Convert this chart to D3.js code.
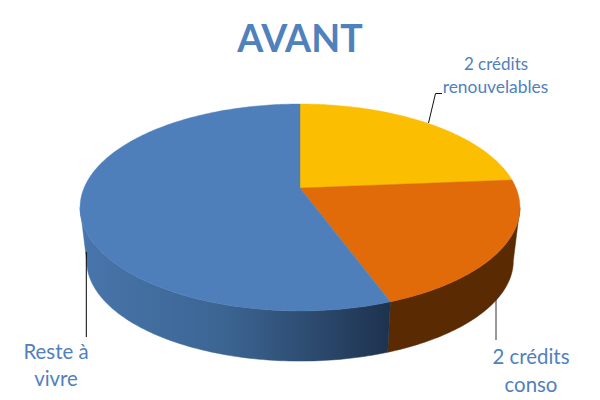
<!DOCTYPE html>
<html>
<head>
<meta charset="utf-8">
<script src="https://cdn.jsdelivr.net/npm/d3@7"></script>
<style>
  html, body { margin: 0; background: #fff; }
  svg { display: block; }
  text { font-family: Lato, "Open Sans", sans-serif; fill: #4f81bd; text-anchor: middle; }
</style>
</head>
<body>
<svg id="pie" width="600" height="400"></svg>
<script>
const categories = ["2 crédits renouvelables", "2 crédits conso", "Reste à vivre"];
const shares = [23.7, 20.7, 55.6];
const titleText = "AVANT";

const topColors = ["#fbbe00", "#e16b08", "#4e7fbb"];
const wallColors = ["#7f6000", "#5a2b03", "url(#blueWall)"];

const svg = d3.select("svg#pie");

// perspective of the tilted disc: k shifts the centre towards the back edge
const k = 0.188;
const centerX = 300;
const centerY = 188;
const scaleX = 216;
const scaleY = 99.8;
const ellipseMidY = 207.5;

// bottom rim is a bit narrower and sits lower
const rimScale = 0.97;
const rimMidY = 260.8;

function project(angle) {
  const X = Math.sin(angle);
  const Y = -Math.cos(angle);
  const w = 1 - k * Y;
  return [centerX + (scaleX * X) / w, centerY + (scaleY * Y) / w];
}

function projectRim(angle) {
  const p = project(angle);
  return [
    centerX + (p[0] - centerX) * rimScale,
    rimMidY + (p[1] - ellipseMidY) * rimScale,
  ];
}

const pie = d3.pie().sort(null).value((d) => d);
const slices = pie(shares);

const line = d3.line();

function steps(a, b) {
  const n = Math.max(2, Math.ceil(Math.abs(b - a) * 60));
  return d3.range(n + 1).map((i) => a + ((b - a) * i) / n);
}

// blue side gets darker towards the front right
const defs = svg.append("defs");
const grad = defs
  .append("linearGradient")
  .attr("id", "blueWall")
  .attr("gradientUnits", "userSpaceOnUse")
  .attr("x1", 87)
  .attr("x2", 390)
  .attr("y1", 0)
  .attr("y2", 0);
grad.append("stop").attr("offset", "0%").attr("stop-color", "#4774aa");
grad.append("stop").attr("offset", "45%").attr("stop-color", "#3c6593");
grad.append("stop").attr("offset", "75%").attr("stop-color", "#2c4a6e");
grad.append("stop").attr("offset", "100%").attr("stop-color", "#1d324e");

// visible part of the side, between the two widest points of the ellipse
const wallStart = Math.acos(-k);
const wallEnd = 2 * Math.PI - wallStart;

slices.forEach((d, i) => {
  const a = Math.max(d.startAngle, wallStart);
  const b = Math.min(d.endAngle, wallEnd);
  if (a >= b) return;
  const upper = steps(a, b).map(project);
  const lower = steps(a, b).map(projectRim).reverse();
  svg
    .append("path")
    .attr("class", "wall")
    .attr("d", line(upper.concat(lower)) + "Z")
    .attr("fill", wallColors[i])
    .attr("stroke", wallColors[i])
    .attr("stroke-width", 0.5);
});

// leader lines
const leaders = svg.append("g").attr("fill", "none");
leaders
  .append("path")
  .attr("d", line([[86.3, 252], [86.3, 337]]))
  .attr("stroke", "#000")
  .attr("stroke-width", 1);
leaders
  .append("path")
  .attr("d", line([[496, 296], [496, 340]]))
  .attr("stroke", "#333")
  .attr("stroke-width", 1);

slices.forEach((d, i) => {
  const rimPoints = steps(d.startAngle, d.endAngle).map(project);
  svg
    .append("path")
    .attr("class", "slice")
    .attr("d", line([[centerX, centerY]].concat(rimPoints)) + "Z")
    .attr("fill", topColors[i])
    .attr("stroke", topColors[i])
    .attr("stroke-width", 0.4);
});

leaders
  .append("path")
  .attr("d", line([[428.5, 123], [435.5, 93.5], [442, 93.5]]))
  .attr("stroke", "#111")
  .attr("stroke-width", 1)
  .raise();

// title and labels
svg
  .append("text")
  .text(titleText)
  .attr("x", 300)
  .attr("y", 52)
  .attr("font-size", 37.6)
  .attr("font-weight", 700);

const labelLines = [
  { t: "2 crédits", x: 496, y: 70, s: 17 },
  { t: "renouvelables", x: 495.5, y: 93, s: 17.4 },
  { t: "Reste à", x: 56, y: 359, s: 20.4 },
  { t: "vivre", x: 56, y: 386, s: 20.4 },
  { t: "2 crédits", x: 531, y: 364, s: 20.4 },
  { t: "conso", x: 531, y: 392, s: 20.4 },
];

svg
  .selectAll("text.label")
  .data(labelLines)
  .join("text")
  .attr("class", "label")
  .text((d) => d.t)
  .attr("x", (d) => d.x)
  .attr("y", (d) => d.y)
  .attr("font-size", (d) => d.s);
</script>
</body>
</html>
